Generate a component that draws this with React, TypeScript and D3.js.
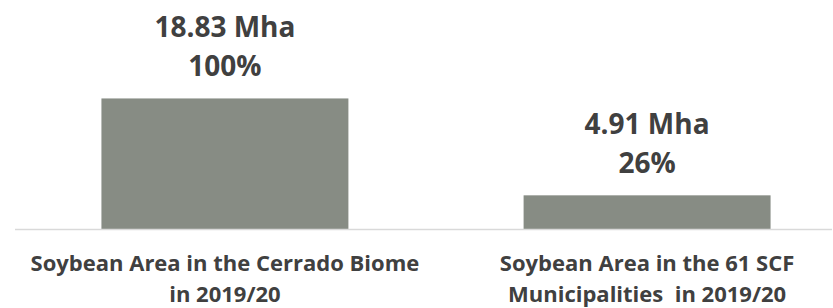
import React from "react";
import * as d3 from "d3";

const categories = [
  ["Soybean Area in the Cerrado Biome", "in 2019/20"],
  ["Soybean Area in the 61 SCF", "Municipalities  in 2019/20"],
];
const values = [18.83, 4.91];
const percentLabels = ["100%", "26%"];

const W = 833;
const H = 308;
const FONT = "'Open Sans', 'Noto Sans', sans-serif";
const TEXT = "#404040";
const BAR = "#878c84";

export default function App() {
  const keys = categories.map((c) => c.join(" "));
  const x = d3
    .scaleBand<string>()
    .domain(keys)
    .range([17, 855])
    .paddingInner(0.415)
    .paddingOuter(0.2);
  const y = d3.scaleLinear().domain([0, 20]).range([229.5, 90.3]);

  return (
    <svg
      width={W}
      height={H}
      style={{ position: "absolute", left: 0, top: 0, background: "#fff" }}
    >
      {values.map((v, i) => {
        const bx = x(keys[i])!;
        const bw = x.bandwidth();
        const top = y(v);
        const cx = bx + bw / 2;
        return (
          <g key={i}>
            <rect x={bx} y={top} width={bw} height={y(0) - top} fill={BAR} />
            <text
              x={cx}
              y={top - 61}
              textAnchor="middle"
              fontFamily={FONT}
              fontWeight={700}
              fontSize={28}
              fill={TEXT}
            >
              {`${v.toFixed(2)} Mha`}
            </text>
            <text
              x={cx}
              y={top - 22}
              textAnchor="middle"
              fontFamily={FONT}
              fontWeight={700}
              fontSize={28}
              fill={TEXT}
            >
              {percentLabels[i]}
            </text>
            {categories[i].map((line, j) => (
              <text
                key={j}
                x={cx}
                y={271 + j * 31}
                textAnchor="middle"
                fontFamily={FONT}
                fontWeight={700}
                fontSize={22}
                fill={TEXT}
                style={{ whiteSpace: "pre" }}
              >
                {line}
              </text>
            ))}
          </g>
        );
      })}
      <line x1={15} x2={832} y1={y(0)} y2={y(0)} stroke="#d9d9d9" strokeWidth={1.5} />
    </svg>
  );
}
